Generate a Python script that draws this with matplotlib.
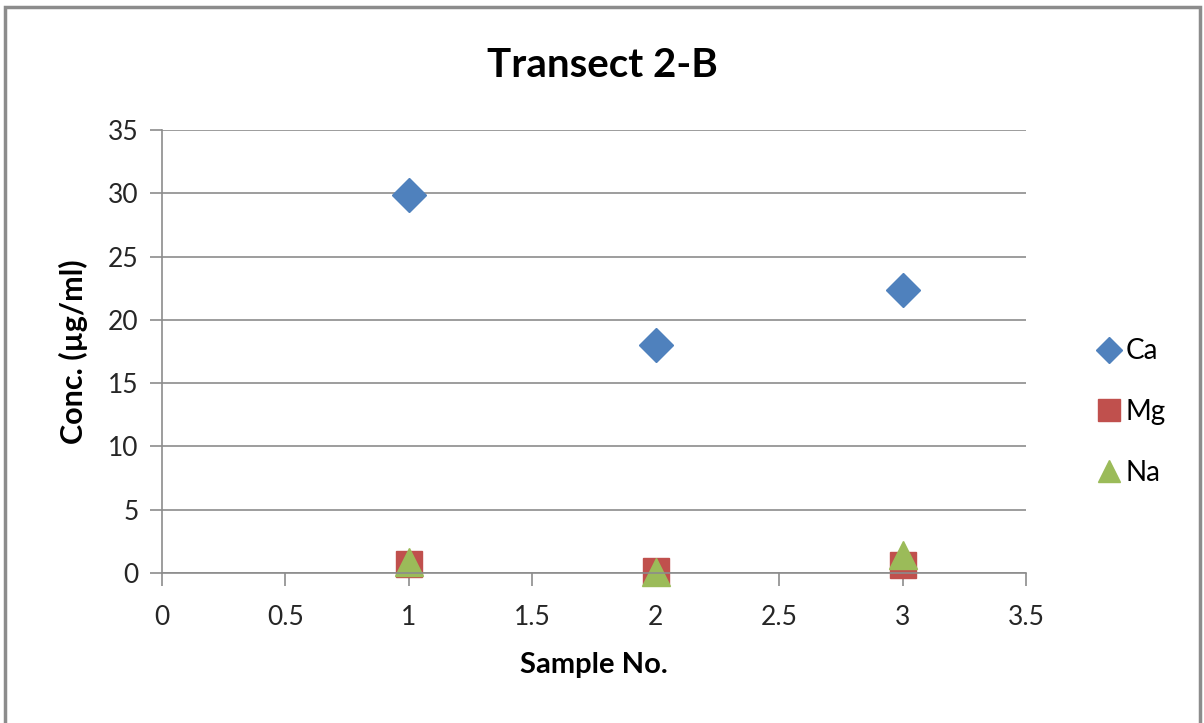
import matplotlib.pyplot as plt
from matplotlib.patches import Rectangle

plt.rcParams['font.family'] = ['Lato', 'DejaVu Sans']

sample = [1, 2, 3]
ca = [29.85, 18.0, 22.35]
mg = [0.7, 0.15, 0.6]
na = [0.85, 0.1, 1.45]

fig = plt.figure(figsize=(12.04, 7.23), dpi=100)
ax = fig.add_axes([0.1346, 0.2075, 0.7176, 0.6127])

# рамка вокруг всей картинки
fig.patches.append(Rectangle((0.004, -0.01), 0.993, 1.0, transform=fig.transFigure,
                             fill=False, edgecolor='#8c8c8c', linewidth=2.5))

ax.plot(sample, ca, linestyle='None', marker='D', markersize=17, color='#4F81BD',
        label='Ca', clip_on=False)
ax.plot(sample, mg, linestyle='None', marker='s', markersize=19, color='#C0504D',
        label='Mg', clip_on=False)
ax.plot(sample, na, linestyle='None', marker='^', markersize=20, color='#9BBB59',
        label='Na', clip_on=False)

ax.set_xlim(0, 3.5)
ax.set_ylim(0, 35)
ax.set_xticks([0, 0.5, 1, 1.5, 2, 2.5, 3, 3.5])
ax.set_xticklabels(['0', '0.5', '1', '1.5', '2', '2.5', '3', '3.5'])
ax.set_yticks(range(0, 40, 5))

ax.grid(axis='y', color='#8c8c8c', linewidth=1.2)
ax.set_axisbelow(True)
for s in ['top', 'right']:
    ax.spines[s].set_visible(False)
for s in ['left', 'bottom']:
    ax.spines[s].set_color('#8c8c8c')
    ax.spines[s].set_linewidth(1.2)
ax.tick_params(axis='both', direction='out', length=9, width=1.2, color='#8c8c8c',
               labelsize=19, labelcolor='#262626')
ax.tick_params(axis='x', pad=14)
ax.tick_params(axis='y', pad=8)

ax.set_title('Transect 2-B', fontsize=29, fontweight='bold', pad=38, x=0.51)
ax.set_xlabel('Sample No.', fontsize=21, fontweight='bold', labelpad=16)
ax.set_ylabel('Conc. (µg/ml)', fontsize=22, fontweight='bold', labelpad=14)

fig.legend(loc='center left', bbox_to_anchor=(0.89, 0.43), frameon=False,
           fontsize=20, markerscale=0.8, labelspacing=1.25, handletextpad=0.15,
           handlelength=0.9)

fig.savefig('out.png')
